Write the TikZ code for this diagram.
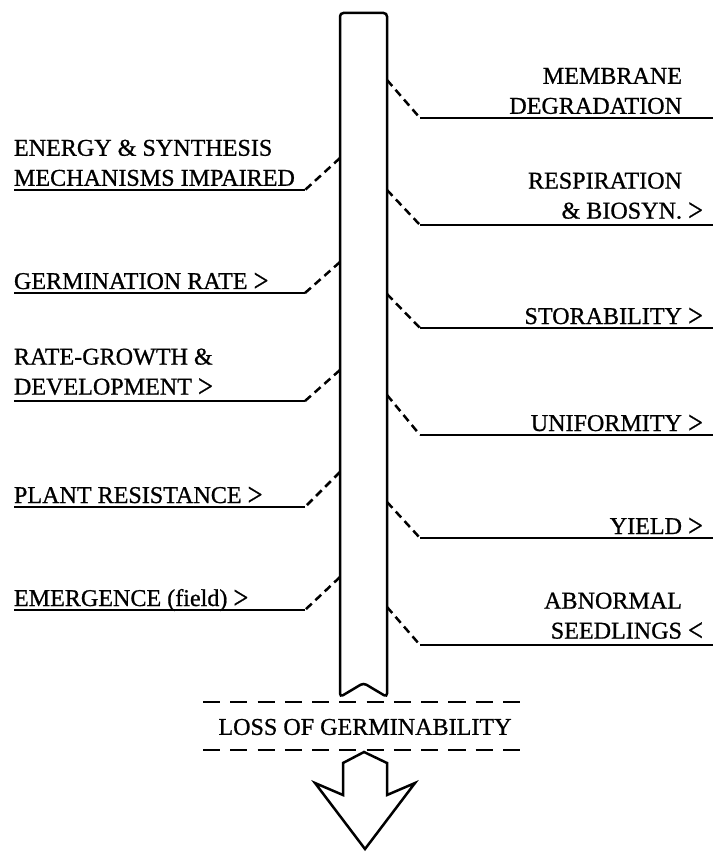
\documentclass[tikz,border=0pt]{standalone}
\usepackage{fontspec}
\setmainfont{Liberation Serif}[BoldFont={Liberation Serif},BoldFeatures={FakeBold=0.8}]
\usepackage{graphicx}
\usepackage{tikz}
\usetikzlibrary{positioning,calc}
\newcommand{\gtmark}{\raisebox{-0.1em}{\scalebox{1.1}[1.35]{\textgreater}}}
\newcommand{\ltmark}{\raisebox{-0.1em}{\scalebox{1.1}[1.35]{\textless}}}

\begin{document}
\begin{tikzpicture}[x=0.44pt,y=-0.44pt,line width=1.1pt,
    lbl/.style={inner sep=0pt,outer sep=0pt,font=\fontsize{10.6}{13.2}\selectfont\bfseries},
    link/.style={dash pattern=on 3.5pt off 2.2pt},
    band/.style={dash pattern=on 7.5pt off 4.5pt}]
    \useasboundingbox (0,0) rectangle (713,852);

    % central shaft with notched foot
    \draw[rounded corners=1.5pt] (340,697) -- (340,13) -- (387,13) -- (387,697) -- (363.5,683) -- cycle;

    % left side: bend points and joins on the shaft
    \foreach \nm/\ly/\jy in {energy/190/158, germ/293/262, growth/401/370, resist/507/472, emerg/610/577} {
        \coordinate (\nm-j) at (340,\jy);
        \coordinate (\nm-b) at (305,\ly);
    }
    % right side
    \foreach \nm/\ly/\jy in {membr/118/80, resp/225/190, stor/328/294, unif/435/395, yield/538/502, abnorm/645/607} {
        \coordinate (\nm-j) at (387,\jy);
        \coordinate (\nm-b) at (420,\ly);
        \coordinate (\nm-e) at (713,\ly);
    }

    % left labels
    \node[lbl,anchor=south west,align=left] (energy) at (14,186) {ENERGY \& SYNTHESIS\\MECHANISMS IMPAIRED};
    \node[lbl,anchor=base west] (germ) at (14,289) {GERMINATION RATE \gtmark};
    \node[lbl,anchor=south west,align=left] (growth) at (14,397) {RATE-GROWTH \&\\DEVELOPMENT \gtmark};
    \node[lbl,anchor=base west] (resist) at (14,503) {PLANT RESISTANCE \gtmark};
    \node[lbl,anchor=base west] (emerg) at (14,606) {EMERGENCE (field) \gtmark};

    % right labels
    \node[lbl,anchor=south east,align=right] (membr) at (682,114) {MEMBRANE\\DEGRADATION};
    \node[lbl,anchor=south east,align=right] (resp) at (682,221) {RESPIRATION\\\& BIOSYN.\rlap{\ \gtmark}};
    \node[lbl,anchor=base east] (stor) at (682,324) {STORABILITY\rlap{\ \gtmark}};
    \node[lbl,anchor=base east] (unif) at (682,431) {UNIFORMITY\rlap{\ \gtmark}};
    \node[lbl,anchor=base east] (yield) at (682,534) {YIELD\rlap{\ \gtmark}};
    \node[lbl,anchor=south east,align=right] (abnorm) at (682,641) {ABNORMAL\\SEEDLINGS\rlap{\ \ltmark}};

    % branches: dashed from the shaft, then solid under the label
    \foreach \nm in {energy,germ,growth,resist,emerg} {
        \draw[link] (\nm-j) -- (\nm-b);
        \draw (\nm-b) -- (\nm-b -| \nm.west);
    }
    \foreach \nm in {membr,resp,stor,unif,yield,abnorm} {
        \draw[link] (\nm-j) -- (\nm-b);
        \draw (\nm-b) -- (\nm-e);
    }

    % loss band and outlet arrow
    \node[lbl] (loss) at (365,727) {LOSS OF GERMINABILITY};
    \draw[band] (203,702) -- (530,702);
    \draw[band] (203,750) -- (530,750);
    \draw (364,752) -- (343,763) -- (343,795) -- (315,783) -- (365,849) -- (415,783) -- (387,795) -- (387,763) -- cycle;
\end{tikzpicture}
\end{document}
